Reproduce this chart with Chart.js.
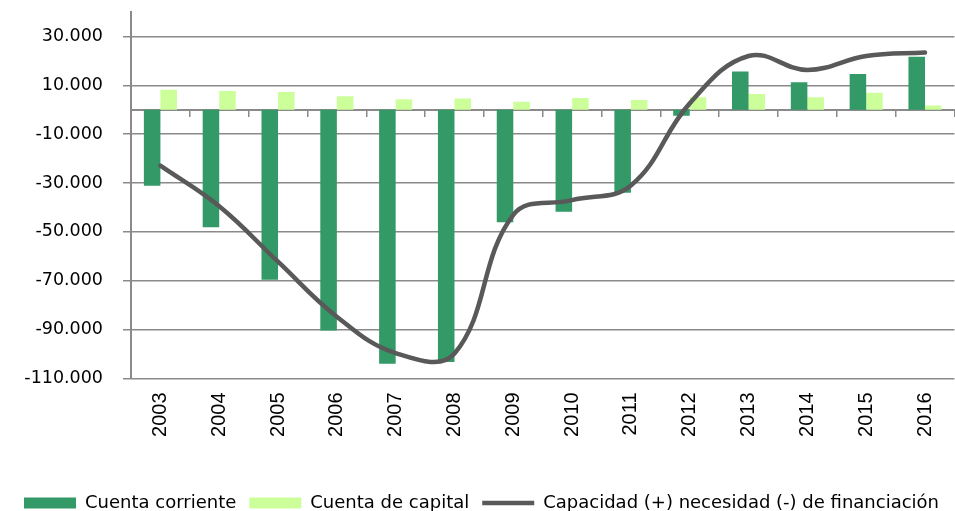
<!DOCTYPE html>
<html>
<head>
<meta charset="utf-8">
<script src="https://cdn.jsdelivr.net/npm/chart.js@4"></script>
<style>
  html, body { margin: 0; padding: 0; background: #fff; overflow: hidden; }
  #wrap { width: 955px; height: 511px; overflow: hidden; }
</style>
</head>
<body>
<div id="wrap"><canvas id="balanceChart" width="963" height="522"></canvas></div>
<script>
// Balanza: cuenta corriente, cuenta de capital y capacidad/necesidad de financiación
const years = ['2003', '2004', '2005', '2006', '2007', '2008', '2009', '2010', '2011', '2012', '2013', '2014', '2015', '2016'];
const cuentaCorriente = [-31100, -48100, -69600, -90400, -104000, -103200, -46000, -41800, -34000, -2500, 15600, 11200, 14600, 21700];
const cuentaCapital = [8200, 7700, 7300, 5500, 4300, 4600, 3300, 4800, 4000, 5100, 6400, 5100, 6900, 1700];
const capacidadNecesidad = [-22900, -39500, -62200, -84700, -99600, -99800, -43000, -37000, -31000, 2600, 22000, 16300, 22000, 23400];
const yTicks = [-110000, -90000, -70000, -50000, -30000, -10000, 10000, 30000];

const gridGray = '#8a8a8a';
const fmt = v => v.toLocaleString('de-DE');

const ctx = document.getElementById('balanceChart').getContext('2d');
new Chart(ctx, {
    type: 'bar',
    data: {
        labels: years,
        datasets: [{
            label: 'Cuenta corriente',
            data: cuentaCorriente,
            backgroundColor: '#339966',
            order: 1
        }, {
            label: 'Cuenta de capital',
            data: cuentaCapital,
            backgroundColor: '#ccff99',
            order: 1
        }, {
            type: 'line',
            label: 'Capacidad (+) necesidad (-) de financiación',
            data: capacidadNecesidad,
            borderColor: '#595959',
            backgroundColor: '#595959',
            borderWidth: 4.5,
            pointRadius: 0,
            tension: 0.4,
            borderCapStyle: 'round',
            fill: false,
            order: 0
        }]
    },
    options: {
        responsive: false,
        animation: false,
        categoryPercentage: 0.5625,
        barPercentage: 1,
        layout: { padding: { top: 12, left: 0, right: 0, bottom: 0 } },
        plugins: {
            tooltip: { enabled: false },
            legend: {
                position: 'bottom',
                labels: {
                    font: { family: 'DejaVu Sans', size: 18 },
                    color: '#000',
                    usePointStyle: true,
                    pointStyleWidth: 52,
                    boxHeight: 11,
                    padding: 13,
                    generateLabels: chart => chart.data.datasets.map((ds, i) => ({
                        text: ds.label,
                        fillStyle: ds.type === 'line' ? 'transparent' : ds.backgroundColor,
                        strokeStyle: ds.type === 'line' ? ds.borderColor : 'transparent',
                        lineWidth: ds.type === 'line' ? 4.5 : 0,
                        pointStyle: ds.type === 'line' ? 'line' : 'rect',
                        fontColor: '#000',
                        hidden: false,
                        datasetIndex: i
                    }))
                }
            }
        },
        scales: {
            x: {
                grid: { display: false, drawTicks: false },
                border: { display: false },
                ticks: {
                    minRotation: 90,
                    maxRotation: 90,
                    padding: 14,
                    color: '#000',
                    font: { family: 'Liberation Sans', size: 20 }
                },
                afterFit: s => {
                    const lg = s.chart.legend;
                    s.height = 522 - (lg ? lg.height : 40) - 378.5;
                }
            },
            xZero: {
                type: 'category',
                position: { y: 0 },
                offset: true,
                grid: {
                    offset: true,
                    drawOnChartArea: false,
                    drawTicks: true,
                    tickLength: 6,
                    color: gridGray,
                    lineWidth: 1.5
                },
                border: { display: true, color: gridGray, width: 2 },
                ticks: { display: false }
            },
            y: {
                min: -110000,
                max: 40000,
                afterBuildTicks: s => { s.ticks = yTicks.map(v => ({ value: v })); },
                afterFit: s => {
                    s.width = 131;
                    s.paddingTop = 0;
                    s.paddingBottom = 0;
                },
                grid: { color: gridGray, lineWidth: 1.5, tickLength: 8 },
                border: { display: true, color: gridGray, width: 2 },
                ticks: {
                    padding: 20,
                    color: '#000',
                    font: { family: 'DejaVu Sans', size: 17.5 },
                    callback: v => fmt(v)
                }
            }
        }
    }
});
</script>
</body>
</html>
